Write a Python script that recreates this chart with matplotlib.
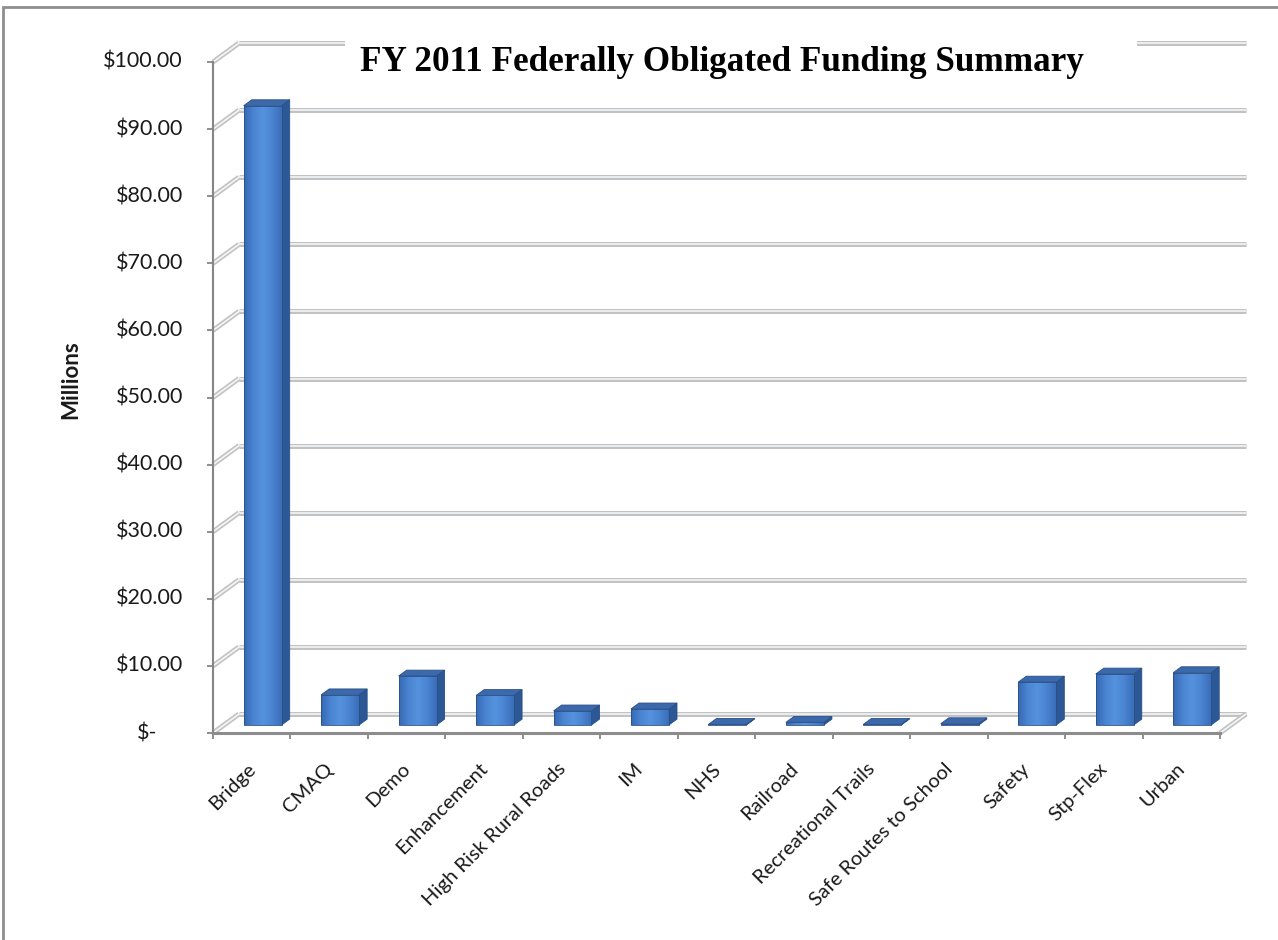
import matplotlib
matplotlib.use("Agg")
import numpy as np
import matplotlib.pyplot as plt
from matplotlib.patches import Polygon, Rectangle
from matplotlib.colors import LinearSegmentedColormap
import matplotlib.patheffects as pe

# ---------------- data ----------------
categories = ["Bridge", "CMAQ", "Demo", "Enhancement", "High Risk Rural Roads", "IM",
              "NHS", "Railroad", "Recreational Trails", "Safe Routes to School",
              "Safety", "Stp-Flex", "Urban"]
values = [92.3, 4.5, 7.3, 4.4, 2.1, 2.4, 0.1, 0.4, 0.1, 0.2, 6.4, 7.6, 7.8]
y_ticks = [0, 10, 20, 30, 40, 50, 60, 70, 80, 90, 100]
y_tick_labels = ["$-", "$10.00", "$20.00", "$30.00", "$40.00", "$50.00",
                 "$60.00", "$70.00", "$80.00", "$90.00", "$100.00"]
title = "FY 2011 Federally Obligated Funding Summary"
y_label = "Millions"

# ---------------- layout ----------------
W, H = 1278, 940
fig = plt.figure(figsize=(W / 100, H / 100), dpi=100)
fig.patch.set_facecolor("white")
AX_L, AX_R, AX_B, AX_T = 213, 1220, 733, 62
ax = fig.add_axes([AX_L / W, (H - AX_B) / H, (AX_R - AX_L) / W, (AX_B - AX_T) / H])
n = len(categories)
ax.set_facecolor("none")

sx = n / (AX_R - AX_L)          # data units per pixel (x)
sy = 100 / (AX_B - AX_T)        # data units per pixel (y)
bx, by = 26 * sx, 19 * sy       # back-wall depth offset

grid_fx = [pe.Stroke(linewidth=3.6, foreground="#c2c2c2"), pe.Normal()]

def dline(xs, ys):
    ax.plot(xs, ys, color="#f3f6f9", lw=1.2, solid_capstyle="butt",
            path_effects=grid_fx, clip_on=False, zorder=1)

# back wall gridlines + left wall diagonals
for v in y_ticks:
    dline([bx, n + bx], [v + by, v + by])
    dline([0, bx], [v, v + by])
# floor right edge
dline([n, n + bx], [0, by])

# ---------------- bars (pseudo 3D) ----------------
w = 0.49
d0, dd = 0.42, 0.31
side_c, top_c, edge_c = "#2c5895", "#3b69ab", "#2a4f86"
grad = LinearSegmentedColormap.from_list(
    "front", ["#3669b3", "#4a84d2", "#5592dd", "#4a84d2", "#3a6eb9"])
gimg = np.linspace(0, 1, 64).reshape(1, -1)
for i, v in enumerate(values):
    x0 = i + 0.5 - w / 2 + d0 * bx
    y0 = d0 * by
    ox, oy = dd * bx, dd * by
    ax.add_patch(Polygon([(x0 + w, y0), (x0 + w + ox, y0 + oy),
                          (x0 + w + ox, y0 + v + oy), (x0 + w, y0 + v)],
                         closed=True, fc=side_c, ec=edge_c, lw=0.6, zorder=3, clip_on=False))
    ax.add_patch(Polygon([(x0, y0 + v), (x0 + w, y0 + v),
                          (x0 + w + ox, y0 + v + oy), (x0 + ox, y0 + v + oy)],
                         closed=True, fc=top_c, ec=edge_c, lw=0.6, zorder=3, clip_on=False))
    rect = Rectangle((x0, y0), w, v, fc="none", ec=edge_c, lw=0.6,
                     zorder=5, clip_on=False)
    ax.add_patch(rect)
    im = ax.imshow(gimg, cmap=grad, extent=[x0, x0 + w, y0, y0 + v], aspect="auto",
                   interpolation="bilinear", zorder=4, origin="lower")
    im.set_clip_path(rect)

ax.set_xlim(0, n)
ax.set_ylim(0, 100)
ax.set_aspect("auto")

# ---------------- axes ----------------
for s in ["top", "right"]:
    ax.spines[s].set_visible(False)
ax.spines["left"].set_color("#868686")
ax.spines["left"].set_linewidth(1.5)
ax.spines["bottom"].set_color("#8c8c8c")
ax.spines["bottom"].set_linewidth(2.2)

ax.set_yticks(y_ticks)
ax.tick_params(axis="y", direction="out", length=4.5, width=1.3, color="#868686",
               labelleft=False)
ax.set_xticks([i for i in range(n + 1)], minor=True)
ax.set_xticks([])
ax.tick_params(axis="x", which="minor", direction="out", length=4.5, width=1.3,
               color="#868686")

lab_font = "Lato"
for v, lab in zip(y_ticks, y_tick_labels):
    xoff = (AX_L - 183) if lab != "$-" else (AX_L - 157)
    ax.text(-xoff * sx, v, lab, ha="right", va="center", fontsize=15.5,
            family=lab_font, color="#1a1a1a", clip_on=False)

for i, cat in enumerate(categories):
    ax.text(i + 0.5 - 5 * sx, -27 * sy, cat, rotation=45, rotation_mode="anchor",
            ha="right", va="top", fontsize=14.5, family=lab_font, color="#1a1a1a",
            clip_on=False)

fig.text(71 / W, 1 - 380 / H, y_label, rotation=90, ha="center", va="center",
         fontsize=16, fontweight="bold", family=lab_font, color="#1a1a1a")

# title with white backing
fig.add_artist(Rectangle((345 / W, 1 - 96 / H), (1137 - 345) / W, 66 / H,
                         transform=fig.transFigure, fc="white", ec="none", zorder=2))
fig.text(722 / W, 1 - 71 / H, title, ha="center", va="baseline", fontsize=25.3,
         fontweight="bold", family="Liberation Serif", color="black", zorder=3)

# outer chart border
fig.add_artist(Rectangle((3 / W, -0.05), 1.2, (1 - 7 / H) + 0.05,
                         transform=fig.transFigure, fill=False, ec="#8e8e8e",
                         lw=2, clip_on=False, zorder=5))

fig.savefig("out.png", dpi=100)
